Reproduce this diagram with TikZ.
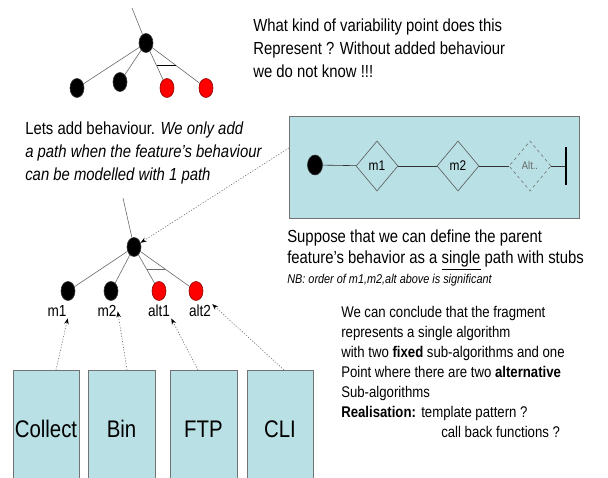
\documentclass[tikz,border=0pt]{standalone}
\usepackage{fontspec}
\setmainfont{Liberation Sans}[FakeStretch=0.85]
\usepackage{tikz}
\usetikzlibrary{positioning}
\usetikzlibrary{arrows.meta}
\usetikzlibrary{shapes,calc}
\definecolor{boxcyan}{RGB}{185,224,228}
\definecolor{edgegray}{RGB}{105,105,105}
\tikzset{feat node/.style={ellipse,fill=black,draw=black!80,minimum width=14pt,minimum height=19pt,inner sep=0pt},
  alt node/.style={feat node,fill=red,draw=red!55!black},
  tree edge/.style={draw=edgegray,semithick},
  alt bar/.style={draw=black,semithick},
  note/.style={align=left,inner sep=0pt,font=\fontsize{17.5}{23}\selectfont},
  lbl/.style={anchor=base,inner sep=1pt,font=\fontsize{16}{16}\selectfont},
  blockbox/.style={draw=black!55,fill=boxcyan,anchor=north,minimum height=117pt,inner sep=0pt,font=\fontsize{24}{24}\selectfont},
  stub/.style={diamond,draw=black!65,minimum width=42pt,minimum height=50pt,inner sep=0pt,font=\fontsize{14}{14}\selectfont},
  dep arrow/.style={draw=black!55,dash pattern=on 1.2pt off 1.6pt,-{Stealth[length=6pt,width=4.5pt,black]}},
}

\begin{document}
\begin{tikzpicture}[x=1pt,y=-1pt,semithick]
    \useasboundingbox (0,0) rectangle (608,478);
    \clip (0,0) rectangle (608,478);

    \coordinate (top1) at (132,8);
    \node[feat node] (root1) at (146,43) {};
    \node[feat node] (f11) at (77,88) {};
    \node[feat node] (f12) at (120,82) {};
    \node[alt node] (f13) at (167,88) {};
    \node[alt node] (f14) at (206,88) {};
    \path[tree edge]
    (top1) edge (root1)
    (root1) edge (f11)
    (root1) edge (f12)
    (root1) edge (f13)
    (root1) edge (f14);
    \draw[alt bar] ($(root1)!0.5!(f13)$) -- ($(root1)!0.5!(f14)$);

    \node[note,anchor=north west] (question) at (253,18.5) {What kind of variability point does this\\Represent ? Without added behaviour\\we do not know !!!};
    \node[note,anchor=north west] (addbeh) at (25,122) {Lets add behaviour. \textit{We only add}\\\textit{a path when the feature’s behaviour}\\\textit{can be modelled with 1 path}};

    \node[draw=black!55,fill=boxcyan,minimum width=290pt,minimum height=102pt] (pathbox) at (434,167) {};
    \node[feat node,minimum width=15pt,minimum height=20pt] (start) at (315,165) {};
    \node[stub] (m1) at (377,166) {m1};
    \node[stub] (m2) at (458,166) {m2};
    \node[stub,dashed,draw=black!55,text=black!60,font=\fontsize{11}{11}\selectfont] (alt) at (530,166) {Alt..};
    \node[fill=black,minimum width=2pt,minimum height=38pt,inner sep=0pt] (stop) at (566,166) {};
    \path[draw=black!80]
    (start) edge (m1)
    (m1) edge (m2)
    (m2) edge (alt)
    (alt) edge (stop);

    \coordinate (top2) at (123,198);
    \node[feat node] (root2) at (134,247) {};
    \node[feat node] (f21) at (68,291) {};
    \node[feat node] (f22) at (111,291) {};
    \node[alt node] (f23) at (159,291) {};
    \node[alt node] (f24) at (196,291) {};
    \path[tree edge]
    (top2) edge (root2)
    (root2) edge (f21)
    (root2) edge (f22)
    (root2) edge (f23)
    (root2) edge (f24);
    \draw[alt bar,draw=edgegray] ($(root2)!0.5!(f23)$) -- ($(root2)!0.5!(f24)$);
    \path ([yshift=19pt]pathbox.west) edge[dep arrow] (root2);

    \node[lbl] (lm1) at (57,317) {m1};
    \node[lbl] (lm2) at (107,317) {m2};
    \node[lbl] (la1) at (159,317) {alt1};
    \node[lbl] (la2) at (200,317) {alt2};

    \node[blockbox,minimum width=66pt] (collect) at (46,370) {Collect};
    \node[blockbox,minimum width=67pt] (bin) at (121.5,370) {Bin};
    \node[blockbox,minimum width=67pt] (ftp) at (203.5,370) {FTP};
    \node[blockbox,minimum width=66pt] (cli) at (280,370) {CLI};
    \path
    ([xshift=10pt]collect.north) edge[dep arrow] (lm1.south east)
    ([xshift=5.5pt]bin.north) edge[dep arrow] (lm2.east)
    ([xshift=-5.5pt]ftp.north) edge[dep arrow] (la1.south east)
    ([xshift=4pt]cli.north) edge[dep arrow] (la2.north east);

    \node[note,anchor=north west,font=\fontsize{17.5}{21.5}\selectfont] (suppose) at (287,229.2) {Suppose that we can define the parent\\feature's behavior as a \underline{single} path with stubs};
    \node[anchor=base west,inner sep=0pt,font=\fontsize{12.8}{14}\selectfont\itshape] (nb) at (287,283.5) {NB: order of m1,m2,alt above is significant};

    \node[note,anchor=north west,font=\fontsize{15.5}{20}\selectfont] (conclude) at (341,305.7) {We can conclude that the fragment\\represents a single algorithm\\with two \textbf{fixed} sub-algorithms and one\\Point where there are two \textbf{alternative}\\Sub-algorithms\\\makebox[80pt][l]{\textbf{Realisation:}}template pattern ?\\\hspace*{100pt}call back functions ?};
\end{tikzpicture}
\end{document}
